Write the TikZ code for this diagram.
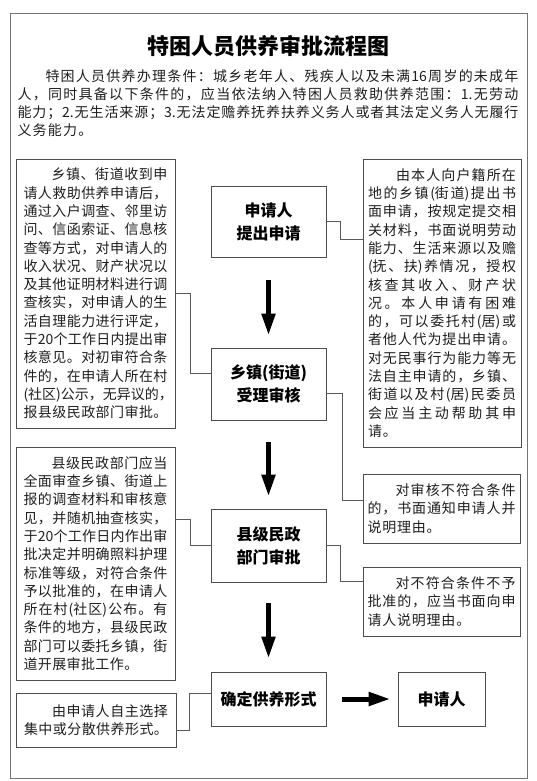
\documentclass[tikz,border=0pt]{standalone}
\usepackage{fontspec}
\setmainfont{Noto Sans CJK SC}
\usetikzlibrary{arrows.meta}
\definecolor{boxgray}{gray}{0.3}
\definecolor{framegray}{gray}{0.45}
\definecolor{conngray}{gray}{0.35}
\definecolor{txtcol}{gray}{0.12}
\newdimen\linew
\newdimen\natg
\newcommand\spEndTok{}
\def\spEndMark{\spEndTok}
\def\spGlue{\hfil}
\def\spFirst#1{\def\spTmp{#1}\ifx\spTmp\spEndMark\else{#1}\expandafter\spRest\fi}
\def\spRest#1{\def\spTmp{#1}\ifx\spTmp\spEndMark\else\spGlue{#1}\expandafter\spRest\fi}
\newcommand\JL[1]{\hbox to\linew{\spFirst#1\spEndTok}}
\newcommand\JI[1]{\hbox to\linew{\hskip2em\spFirst#1\spEndTok}}
\newcommand\JN[1]{\hbox{\def\spGlue{\hskip\natg}\spFirst#1\spEndTok}}
\newcommand\tb[1]{\vbox{\lineskip=0pt\lineskiplimit=-50pt #1}}
\tikzset{
  tbox/.style={draw=boxgray, line width=0.8pt, inner sep=0pt, text=txtcol,
    font=\fontsize{14pt}{18.3pt}\selectfont},
  cbox/.style={draw=boxgray, line width=0.9pt, inner sep=0pt, align=center,
    text=black, font=\bfseries\fontsize{16pt}{23pt}\selectfont},
  conn/.style={draw=conngray, line width=0.8pt},
  bigarrow/.style={draw=black, line width=5pt, -{Triangle[length=22pt,width=13pt]}}
}
\begin{document}
\begin{tikzpicture}[x=1pt,y=-1pt]
\useasboundingbox[fill=white] (0,0) rectangle (536,781);
\draw[framegray, line width=1pt] (10,14) rectangle (527,778);
% title
\node[text=black, font=\bfseries\fontsize{22pt}{26pt}\selectfont, inner sep=0pt] (title) at (268,46) {特困人员供养审批流程图};
% intro
\node[inner sep=0pt, text=txtcol, font=\fontsize{14pt}{18pt}\selectfont] (intro) at (268,103) {\linew=501pt \natg=1.2pt
\tb{\JI{特困人员供养办理条件：城乡老年人、残疾人以及未满{16}周岁的未成年}
\JL{人，同时具备以下条件的，应当依法纳入特困人员救助供养范围：{1.}无劳动}
\JL{能力；{2.}无生活来源；{3.}无法定赡养抚养扶养义务人或者其法定义务人无履行}
\JN{义务能力。}}};
% center boxes
\node[cbox, minimum width=115pt, minimum height=71pt] (b1) at (268.5,221.5) {申请人\\提出申请};
\node[cbox, minimum width=115pt, minimum height=72pt] (b2) at (268.5,384) {乡镇(街道)\\受理审核};
\node[cbox, minimum width=115pt, minimum height=73pt] (b3) at (268.5,545.5) {县级民政\\部门审批};
\node[cbox, minimum width=115pt, minimum height=54pt] (b4) at (268.5,699) {确定供养形式};
\node[cbox, minimum width=87pt, minimum height=54pt] (b5) at (441.5,699) {申请人};
% left box 1
\node[tbox, minimum width=159pt, minimum height=269pt] (l1) at (95.5,293.5) {\linew=144pt \natg=0.4pt
\tb{\JI{乡镇、街道收到申}
\JL{请人救助供养申请后，}
\JL{通过入户调查、邻里访}
\JL{问、信函索证、信息核}
\JL{查等方式，对申请人的}
\JL{收入状况、财产状况以}
\JL{及其他证明材料进行调}
\JL{查核实，对申请人的生}
\JL{活自理能力进行评定，}
\JL{于{20}个工作日内提出审}
\JL{核意见。对初审符合条}
\JL{件的，在申请人所在村}
\JL{{(社区)}公示，无异议的，}
\JL{报县级民政部门审批。}}};
% right box 1
\node[tbox, minimum width=158pt, minimum height=288pt] (r1) at (442,303) {\linew=148pt \natg=0.8pt
\tb{\JI{由本人向户籍所在}
\JL{地的乡镇{(街}{道)}提出书}
\JL{面申请，按规定提交相}
\JL{关材料，书面说明劳动}
\JL{能力、生活来源以及赡}
\JL{{(抚}、{扶)}养情况，授权}
\JL{核查其收入、财产状}
\JL{况。本人申请有困难}
\JL{的，可以委托村{(居)}或}
\JL{者他人代为提出申请。}
\JL{对无民事行为能力等无}
\JL{法自主申请的，乡镇、}
\JL{街道以及村{(居)}民委员}
\JL{会应当主动帮助其申}
\JN{请。}}};
% left box 2
\node[tbox, minimum width=159pt, minimum height=233pt] (l2) at (95.5,563.5) {\linew=144pt \natg=0.4pt
\tb{\JI{县级民政部门应当}
\JL{全面审查乡镇、街道上}
\JL{报的调查材料和审核意}
\JL{见，并随机抽查核实，}
\JL{于{20}个工作日内作出审}
\JL{批决定并明确照料护理}
\JL{标准等级，对符合条件}
\JL{予以批准的，在申请人}
\JL{所在村{(社}{区)}公布。有}
\JL{条件的地方，县级民政}
\JL{部门可以委托乡镇，街}
\JN{道开展审批工作。}}};
% right box 2
\node[tbox, minimum width=157pt, minimum height=69pt] (r2) at (441.5,508.5) {\linew=148pt \natg=0.8pt
\tb{\JI{对审核不符合条件}
\JL{的，书面通知申请人并}
\JN{说明理由。}}};
% right box 3
\node[tbox, minimum width=157pt, minimum height=69pt] (r3) at (441.5,601.5) {\linew=148pt \natg=0.8pt
\tb{\JI{对不符合条件不予}
\JL{批准的，应当书面向申}
\JN{请人说明理由。}}};
% left box 3
\node[tbox, minimum width=160pt, minimum height=54pt] (l3) at (96,720) {\linew=144pt \natg=0.4pt
\tb{\JI{由申请人自主选择}
\JL{集中或分散供养形式。}}};
% connector bends
\coordinate (k1a) at (340,221.5); \coordinate (k1b) at (340,239);
\coordinate (k2a) at (190,293.5); \coordinate (k2b) at (190,373);
\coordinate (k3a) at (342,393);   \coordinate (k3b) at (342,500);
\coordinate (k4a) at (190,519);   \coordinate (k4b) at (190,545.5);
\coordinate (k5a) at (340,545.5); \coordinate (k5b) at (340,581);
\coordinate (k6a) at (189,693);   \coordinate (k6b) at (189,730);
\draw[conn] (b1.east) -- (k1a) -- (k1b) -- (r1.west |- k1b);
\draw[conn] (l1.east) -- (k2a) -- (k2b) -- (b2.west |- k2b);
\draw[conn] (b2.east |- k3a) -- (k3a) -- (k3b) -- (r2.west |- k3b);
\draw[conn] (l2.east |- k4a) -- (k4a) -- (k4b) -- (b3.west);
\draw[conn] (b3.east) -- (k5a) -- (k5b) -- (r3.west |- k5b);
\draw[conn] (b4.west |- k6a) -- (k6a) -- (k6b) -- (l3.east |- k6b);
% arrows
\draw[bigarrow, shorten <=23pt, shorten >=12pt] (b1) -- (b2);
\draw[bigarrow, shorten <=22pt, shorten >=12pt] (b2) -- (b3);
\draw[bigarrow, shorten <=21pt, shorten >=13pt] (b3) -- (b4);
\draw[bigarrow, shorten <=16pt, shorten >=7pt] (b4) -- (b5);
\end{tikzpicture}
\end{document}
